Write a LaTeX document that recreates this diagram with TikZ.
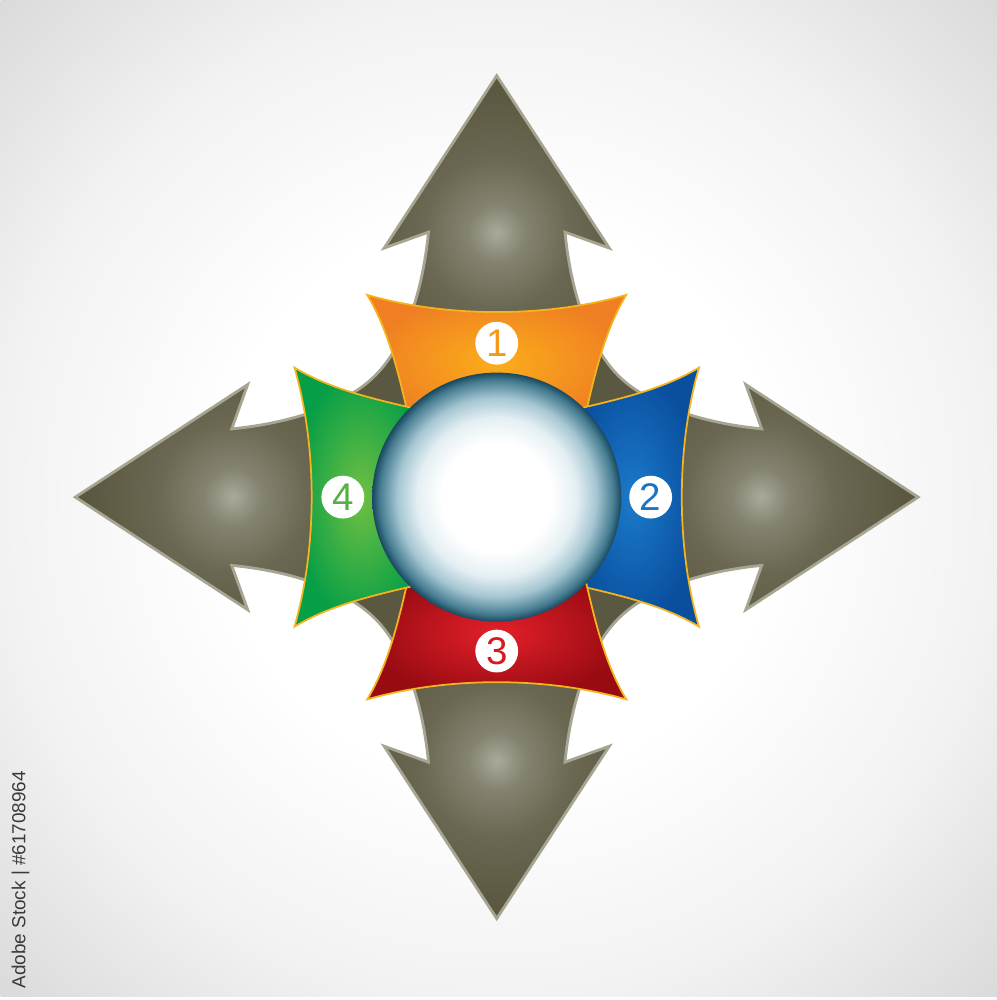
\documentclass[tikz,border=0pt]{standalone}
\usepackage{fontspec}
\setmainfont{Liberation Sans}
\usetikzlibrary{positioning,calc}

\definecolor{arrowbody}{RGB}{90,88,64}
\definecolor{arrowedge}{RGB}{166,165,146}
\definecolor{glowA}{RGB}{170,169,156}
\definecolor{glowB}{RGB}{132,131,112}
\definecolor{glowC}{RGB}{106,104,82}
\definecolor{paneledge}{RGB}{245,180,30}
\definecolor{orangeIn}{RGB}{251,173,27}
\definecolor{orangeOut}{RGB}{239,127,34}
\definecolor{blueIn}{RGB}{27,122,202}
\definecolor{blueOut}{RGB}{10,78,158}
\definecolor{redIn}{RGB}{228,32,42}
\definecolor{redOut}{RGB}{152,11,18}
\definecolor{greenIn}{RGB}{112,192,67}
\definecolor{greenOut}{RGB}{6,158,70}
\definecolor{numOrange}{RGB}{243,154,29}
\definecolor{numBlue}{RGB}{27,117,196}
\definecolor{numRed}{RGB}{215,25,32}
\definecolor{numGreen}{RGB}{85,177,70}
\definecolor{globeA}{RGB}{228,239,243}
\definecolor{globeB}{RGB}{165,198,210}
\definecolor{globeC}{RGB}{70,124,145}
\definecolor{globeD}{RGB}{24,72,94}
\definecolor{bgA}{RGB}{242,242,242}
\definecolor{bgB}{RGB}{218,218,218}
\definecolor{stampgray}{RGB}{58,58,58}

\pgfdeclareradialshading{backdrop}{\pgfpoint{0bp}{0bp}}{color(0bp)=(white); color(14bp)=(white); color(25bp)=(bgA); color(35.4bp)=(bgB); color(50bp)=(bgB)}
\pgfdeclareradialshading{glow}{\pgfpoint{0bp}{0bp}}{color(0bp)=(glowA); color(5bp)=(glowB); color(13bp)=(glowC); color(25bp)=(arrowbody); color(50bp)=(arrowbody)}
\pgfdeclareradialshading{globe}{\pgfpoint{0bp}{0bp}}{color(0bp)=(white); color(11bp)=(white); color(16bp)=(globeA); color(20bp)=(globeB); color(23.5bp)=(globeC); color(25bp)=(globeD); color(50bp)=(globeD)}

\newcommand{\starpath}{(tipN) -- (1.13,2.50) -- (0.685,2.66)
    .. controls (0.75,2.0) and (0.95,1.49) .. (1.22,1.22)
    .. controls (1.49,0.95) and (2.0,0.75) .. (2.66,0.685)
    -- (2.50,1.13) -- (tipE) -- (2.50,-1.13) -- (2.66,-0.685)
    .. controls (2.0,-0.75) and (1.49,-0.95) .. (1.22,-1.22)
    .. controls (0.95,-1.49) and (0.75,-2.0) .. (0.685,-2.66)
    -- (1.13,-2.50) -- (tipS) -- (-1.13,-2.50) -- (-0.685,-2.66)
    .. controls (-0.75,-2.0) and (-0.95,-1.49) .. (-1.22,-1.22)
    .. controls (-1.49,-0.95) and (-2.0,-0.75) .. (-2.66,-0.685)
    -- (-2.50,-1.13) -- (tipW) -- (-2.50,1.13) -- (-2.66,0.685)
    .. controls (-2.0,0.75) and (-1.49,0.95) .. (-1.22,1.22)
    .. controls (-0.95,1.49) and (-0.75,2.0) .. (-0.685,2.66)
    -- (-1.13,2.50) -- cycle}

\begin{document}
\begin{tikzpicture}[
    panel/.style={draw=paneledge, line width=0.5pt},
    numdisc/.style={circle, fill=white, minimum size=0.43cm, inner sep=0pt, outer sep=0pt, font=\fontsize{11}{11}\selectfont}
]
    \shade[shading=backdrop] (-4.98,-5.01) rectangle (5.02,4.99);

    \coordinate (tipN) at (0,4.23);
    \coordinate (tipE) at (4.23,0);
    \coordinate (tipS) at (0,-4.23);
    \coordinate (tipW) at (-4.23,0);

    \fill[arrowbody] \starpath;
    \begin{scope}
        \clip \starpath;
        \shade[shading=glow] (-2.65,0) circle (1.45cm);
        \shade[shading=glow] (0,2.65) circle (1.45cm);
        \shade[shading=glow] (2.65,0) circle (1.45cm);
        \shade[shading=glow] (0,-2.65) circle (1.45cm);
    \end{scope}
    \draw[arrowedge, line width=0.8pt] \starpath;

    \shadedraw[panel, inner color=orangeIn, outer color=orangeOut] (-1.30,2.03) .. controls (-0.5,1.80) and (0.5,1.80) .. (1.30,2.03) .. controls (1.10,1.70) and (1.0,1.30) .. (0.90,0.87) -- (0,0.7) -- (-0.90,0.87) .. controls (-1.0,1.30) and (-1.10,1.70) .. (-1.30,2.03) -- cycle;
    \shadedraw[panel, rotate=-90, inner color=blueIn, outer color=blueOut] (-1.30,2.03) .. controls (-0.5,1.80) and (0.5,1.80) .. (1.30,2.03) .. controls (1.10,1.70) and (1.0,1.30) .. (0.90,0.87) -- (0,0.7) -- (-0.90,0.87) .. controls (-1.0,1.30) and (-1.10,1.70) .. (-1.30,2.03) -- cycle;
    \shadedraw[panel, rotate=180, inner color=redIn, outer color=redOut] (-1.30,2.03) .. controls (-0.5,1.80) and (0.5,1.80) .. (1.30,2.03) .. controls (1.10,1.70) and (1.0,1.30) .. (0.90,0.87) -- (0,0.7) -- (-0.90,0.87) .. controls (-1.0,1.30) and (-1.10,1.70) .. (-1.30,2.03) -- cycle;
    \shadedraw[panel, rotate=90, inner color=greenIn, outer color=greenOut] (-1.30,2.03) .. controls (-0.5,1.80) and (0.5,1.80) .. (1.30,2.03) .. controls (1.10,1.70) and (1.0,1.30) .. (0.90,0.87) -- (0,0.7) -- (-0.90,0.87) .. controls (-1.0,1.30) and (-1.10,1.70) .. (-1.30,2.03) -- cycle;

    \node[circle, minimum size=2.5cm, inner sep=0pt, outer sep=0pt, shading=globe] (hub) at (0,0) {};

    \node[numdisc, text=numOrange, above=0.08cm of hub] (n1) {1};
    \node[numdisc, text=numBlue, right=0.08cm of hub] (n2) {2};
    \node[numdisc, text=numRed, below=0.08cm of hub] (n3) {3};
    \node[numdisc, text=numGreen, left=0.08cm of hub] (n4) {4};

    \node[rotate=90, text=stampgray, font=\fontsize{5.4}{6}\selectfont] (stamp) at (-4.78,-3.84) {Adobe Stock | \#61708964};
\end{tikzpicture}
\end{document}
